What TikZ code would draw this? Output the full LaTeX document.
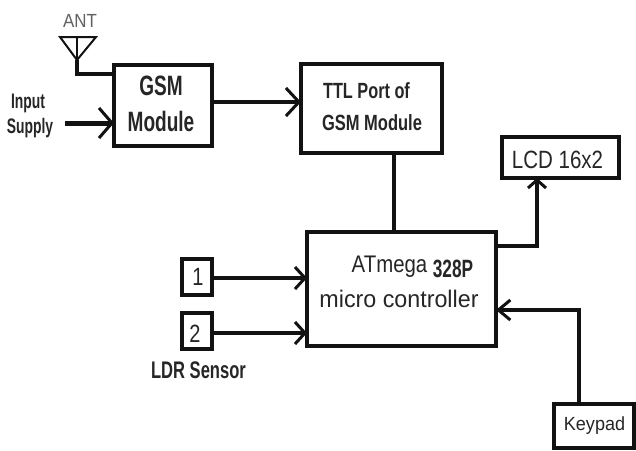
\documentclass[tikz,border=0pt]{standalone}
\usepackage{fontspec}
\setmainfont{Liberation Sans}
\usetikzlibrary{arrows.meta}
\definecolor{ink}{RGB}{18,18,18}
\definecolor{txt}{RGB}{38,38,38}
\tikzset{
  blk/.style={draw=ink,line width=#1,fill=white,outer sep=0pt,inner sep=0pt},
  blk/.default=4pt,
  wire/.style={draw=ink,line width=3.8pt,line cap=butt,line join=miter},
  arr/.style n args={2}{wire,-{Straight Barb[length=#1,width=#2,line width=3pt]}},
  lab/.style={text=txt,inner sep=0pt,anchor=base},
}
\newcommand{\narrow}[2]{\scalebox{#1}[1]{#2}}
\newcommand{\fs}[1]{\fontsize{#1}{#1}\selectfont}
\begin{document}
\begin{tikzpicture}[x=1pt,y=-1pt]
\useasboundingbox (0,0) rectangle (636,450);
\fill[white] (0,0) rectangle (636,450);
% blocks
\node[blk,minimum width=98pt,minimum height=81pt] (gsm) at (163,105) {};
\node[blk,minimum width=141pt,minimum height=89pt] (ttl) at (371.5,108.5) {};
\node[blk,minimum width=117pt,minimum height=41pt] (lcd) at (560.5,157.5) {};
\node[blk=3.6pt,minimum width=189pt,minimum height=114pt] (mcu) at (401.5,289) {};
\node[blk=3.2pt,minimum width=80pt,minimum height=44pt] (key) at (594,426) {};
\node[blk,minimum width=30pt,minimum height=36pt] (s1) at (197,277) {};
\node[blk,minimum width=30pt,minimum height=36pt] (s2) at (197,331) {};
% text labels
\node[lab,font=\bfseries\fs{28}] (t1) at (161,95) {\narrow{.68}{GSM}};
\node[lab,font=\bfseries\fs{28}] (t2) at (161,131) {\narrow{.68}{Module}};
\node[lab,font=\bfseries\fs{22}] (t3) at (366.5,98) {\narrow{.74}{TTL Port of}};
\node[lab,font=\bfseries\fs{22}] (t4) at (372,130) {\narrow{.75}{GSM Module}};
\node[lab,font=\fs{25}] (t5) at (557.5,168) {\narrow{.82}{LCD 16x2}};
\node[lab,font=\fs{19}] (t6) at (594.5,430) {\narrow{.95}{Keypad}};
\node[lab,font=\fs{25}] (t7) at (198,285) {\narrow{.8}{1}};
\node[lab,font=\fs{25}] (t8) at (195,342) {\narrow{.8}{2}};
\node[lab,font=\fs{24}] (at) at (389.5,272) {\narrow{.85}{ATmega}};
\node[lab,font=\bfseries\fs{25}] (p) at (453,277) {\narrow{.69}{328P}};
\node[lab,font=\fs{24}] (mc) at (399,307) {\narrow{.97}{micro controller}};
\node[lab,font=\bfseries\fs{21}] (inp) at (28,108) {\narrow{.66}{Input}};
\node[lab,font=\bfseries\fs{21}] (sup) at (30,133) {\narrow{.66}{Supply}};
\node[lab,font=\bfseries\fs{24}] (ldr) at (198.5,378) {\narrow{.69}{LDR Sensor}};
\node[lab,font=\fs{19},text=black!62] (ant) at (80,27) {\narrow{.89}{ANT}};
% antenna
\coordinate (al) at (60,37);
\coordinate (ar) at (96,37);
\coordinate (am) at (77,37);
\coordinate (ab) at (77,74);
\coordinate (at2) at (77,60);
\draw[draw=ink,line width=2pt,line join=miter] (al) -- (ar) -- (at2) -- cycle;
\draw[draw=ink,line width=2pt] (am) -- (at2);
\draw[wire,line width=4.6pt] (at2) -- (ab) -- (ab -| gsm.west);
% connectors
\coordinate (in) at (65,123);
\draw[arr={13pt}{30pt},line width=5pt] (in) -- (in -| gsm.west);
\coordinate (g1) at (gsm.east |- 0,102);
\draw[arr={13pt}{28pt}] (g1) -- (g1 -| ttl.west);
\draw[wire] (ttl.south -| 394,0) -- (mcu.north -| 394,0);
\coordinate (m1) at (mcu.east |- 0,246);
\coordinate (l1) at (537,246);
\draw[arr={8pt}{18pt}] (m1) -- (l1) -- (l1 |- lcd.south);
\coordinate (k1) at (579,310);
\draw[arr={12pt}{20pt}] (key.north -| k1) -- (k1) -- (k1 -| mcu.east);
\coordinate (a1) at (s1.east |- 0,278);
\coordinate (a2) at (s2.east |- 0,333);
\draw[arr={10pt}{22pt}] (a1) -- (a1 -| mcu.west);
\draw[arr={10pt}{22pt}] (a2) -- (a2 -| mcu.west);
\end{tikzpicture}
\end{document}
